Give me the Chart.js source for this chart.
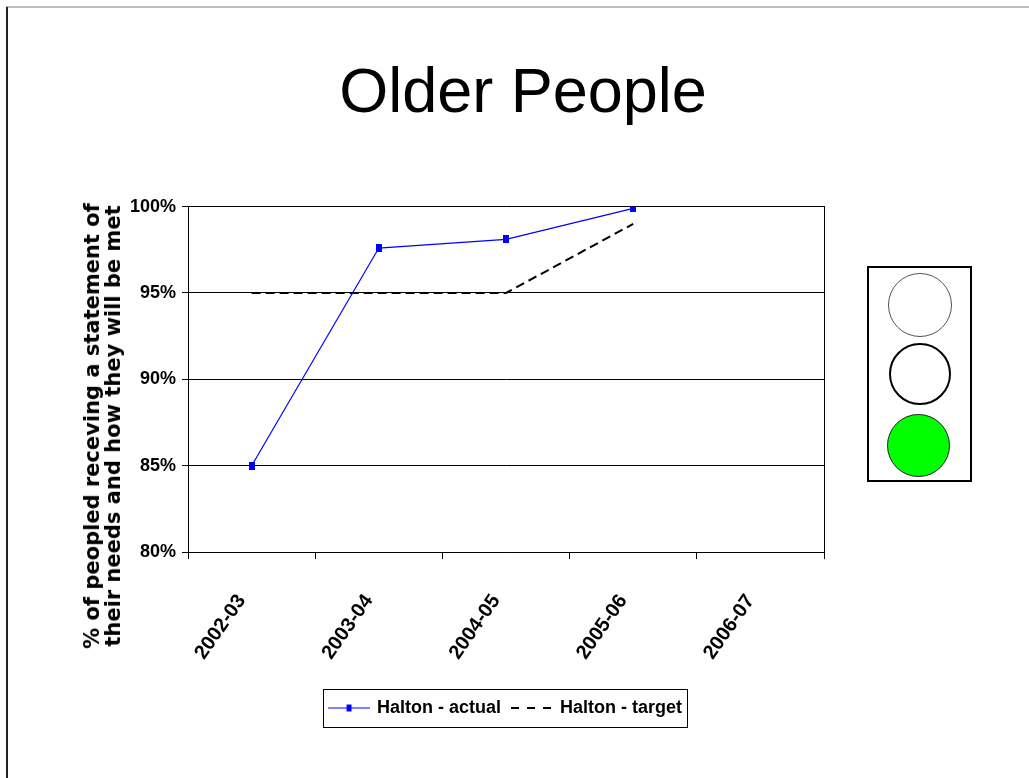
<!DOCTYPE html>
<html><head><meta charset="utf-8">
<script src="https://cdn.jsdelivr.net/npm/chart.js@4"></script>
<style>
html,body{margin:0;padding:0;background:#fff;}
#wrap{position:relative;width:1029px;height:778px;overflow:hidden;background:#fff;}
#c{position:absolute;left:0;top:0;}
.frameTop{position:absolute;left:6px;top:6px;width:1023px;height:2px;background:#bdbdbd;}
.frameLeft{position:absolute;left:6px;top:7px;width:2px;height:771px;background:#222;}
.light{position:absolute;left:867px;top:266px;width:101px;height:212px;border:2px solid #000;background:#fff;}
.lamp{position:absolute;border-radius:50%;box-sizing:border-box;background:#fff;}
.l1{left:19px;top:5px;width:64px;height:64px;border:1px solid #555;}
.l2{left:20px;top:75px;width:62px;height:62px;border:2px solid #000;}
.l3{left:18px;top:146px;width:63px;height:63px;border:1px solid #222;background:#00ff00;}
#ytitle{position:absolute;left:102.5px;top:426px;transform:translate(-50%,-50%) rotate(-90deg);
  font-family:'DejaVu Sans',sans-serif;font-weight:bold;font-size:21px;line-height:21px;
  white-space:nowrap;text-align:center;color:#000;}
</style></head>
<body>
<div id="wrap">
  <div class="frameTop"></div>
  <div class="frameLeft"></div>
  <canvas id="c" width="1029" height="778"></canvas>
  <div id="ytitle"></div>
  <div class="light"><div class="lamp l1"></div><div class="lamp l2"></div><div class="lamp l3"></div></div>
</div>
<script>
// ---- data ----
const categories = ['2002-03', '2003-04', '2004-05', '2005-06', '2006-07'];
const actualValues = [85, 97.6, 98.1, 99.9, null];
const targetValues = [95, 95, 95, 99, null];
const yTickValues = [80, 85, 90, 95, 100];
const seriesNames = ['Halton - actual', 'Halton - target'];
const chartTitle = 'Older People';
const yAxisTitle = ['% of peopled receving a statement of', 'their needs and how they will be met'];

// y-axis title as real text
const yt = document.getElementById('ytitle');
yAxisTitle.forEach((line, i) => {
  if (i) yt.appendChild(document.createElement('br'));
  yt.appendChild(document.createTextNode(line));
});

// ---- styles ----
const SANS = "'Liberation Sans', Arial, sans-serif";
const BLUE = '#0000ff';

function makeMarker() {
  const c = document.createElement('canvas'); c.width = 6; c.height = 8;
  const x = c.getContext('2d'); x.fillStyle = BLUE; x.fillRect(0, 0, 6, 8);
  return c;
}
function makeLegendActual() {
  const c = document.createElement('canvas'); c.width = 42; c.height = 9;
  const x = c.getContext('2d');
  x.strokeStyle = BLUE; x.lineWidth = 1.2;
  x.beginPath(); x.moveTo(0, 4.5); x.lineTo(42, 4.5); x.stroke();
  x.fillStyle = BLUE; x.fillRect(18.5, 1, 5, 7);
  return c;
}
function makeLegendTarget() {
  const c = document.createElement('canvas'); c.width = 42; c.height = 4;
  const x = c.getContext('2d');
  x.strokeStyle = '#000'; x.lineWidth = 2; x.setLineDash([8, 8]);
  x.beginPath(); x.moveTo(0, 2); x.lineTo(42, 2); x.stroke();
  return c;
}
const marker = makeMarker();
const legActual = makeLegendActual();
const legTarget = makeLegendTarget();

const legendBorder = {
  id: 'legendBorder',
  afterDraw(chart) {
    const lg = chart.legend;
    if (!lg || !lg.legendHitBoxes || !lg.legendHitBoxes.length) return;
    const hb = lg.legendHitBoxes;
    const l = Math.min(...hb.map(b => b.left));
    const r = Math.max(...hb.map(b => b.left + b.width));
    const t = Math.min(...hb.map(b => b.top));
    const bt = Math.max(...hb.map(b => b.top + b.height));
    const ctx = chart.ctx;
    ctx.save();
    ctx.strokeStyle = '#000'; ctx.lineWidth = 1;
    ctx.strokeRect(Math.round(l - 7) + 0.5, Math.round(t - 10) + 0.5, Math.round(r - l + 12), Math.round(bt - t + 20));
    ctx.restore();
  }
};

new Chart(document.getElementById('c'), {
  type: 'line',
  data: {
    labels: categories,
    datasets: [
      {
        label: seriesNames[0], data: actualValues,
        borderColor: BLUE, backgroundColor: BLUE, borderWidth: 1.2,
        pointStyle: marker, pointRadius: 4, pointHoverRadius: 4,
        tension: 0
      },
      {
        label: seriesNames[1], data: targetValues,
        borderColor: '#000', backgroundColor: '#000', borderWidth: 2,
        borderDash: [9, 5], pointRadius: 0, pointHoverRadius: 0,
        tension: 0
      }
    ]
  },
  options: {
    responsive: false,
    animation: false,
    events: [],
    layout: { padding: { left: 124, right: 107, top: 0, bottom: 51 } },
    plugins: {
      tooltip: { enabled: false },
      title: {
        display: true, text: chartTitle, color: '#000',
        font: { family: SANS, size: 63, weight: 'normal' },
        padding: { top: 57, bottom: 74 }
      },
      legend: {
        display: true, position: 'bottom', fullSize: false,
        labels: {
          color: '#000',
          font: { family: SANS, size: 18, weight: 'bold' },
          usePointStyle: true, pointStyleWidth: 38, padding: 12,
          generateLabels(chart) {
            const items = Chart.defaults.plugins.legend.labels.generateLabels(chart);
            if (items[0]) items[0].pointStyle = legActual;
            if (items[1]) items[1].pointStyle = legTarget;
            items.forEach(i => { i.lineDash = []; i.lineWidth = 0; });
            return items;
          }
        }
      }
    },
    scales: {
      x: {
        type: 'category', offset: true,
        grid: { display: true, offset: true, drawOnChartArea: false, drawTicks: true, tickLength: 7, color: '#000', lineWidth: 1 },
        border: { display: true, color: '#000', width: 1 },
        ticks: {
          color: '#000', autoSkip: false, maxRotation: 55, minRotation: 55,
          padding: 31, labelOffset: -10,
          font: { family: SANS, size: 20, weight: 'bold' }
        },
        afterFit(scale) { scale.height -= 8; }
      },
      y: {
        type: 'linear', min: 80, max: 100,
        afterBuildTicks(scale) { scale.ticks = yTickValues.map(v => ({ value: v })); },
        grid: { display: true, color: '#000', lineWidth: 1, drawTicks: true, tickLength: 6 },
        border: { display: true, color: '#000', width: 1 },
        ticks: {
          color: '#000', padding: 6,
          font: { family: SANS, size: 18, weight: 'bold' },
          callback: v => v + '%'
        }
      },
      y2: {
        type: 'linear', position: 'right', display: true,
        grid: { display: false, drawTicks: false },
        ticks: { display: false },
        border: { display: true, color: '#000', width: 1 },
        afterFit(scale) { scale.width = 98; }
      }
    }
  },
  plugins: [legendBorder]
});
</script>
</body></html>
